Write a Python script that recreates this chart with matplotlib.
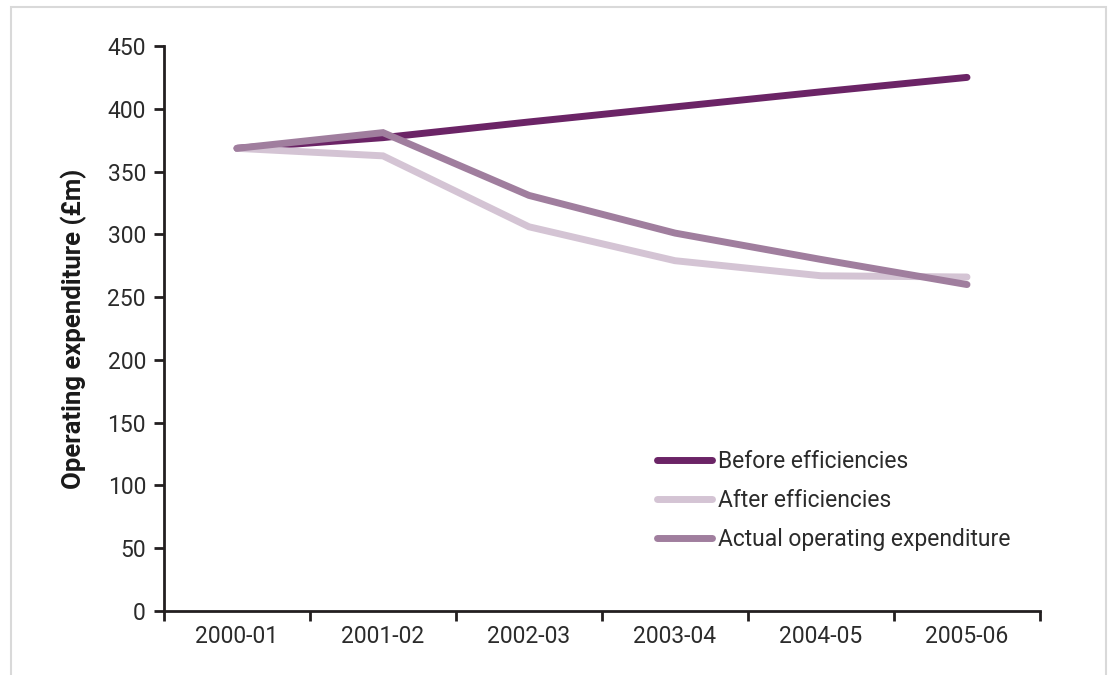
import matplotlib
matplotlib.use("Agg")
import matplotlib.pyplot as plt
from matplotlib.patches import Rectangle
from matplotlib.lines import Line2D

categories = ["2000-01", "2001-02", "2002-03", "2003-04", "2004-05", "2005-06"]
before = [368.5, 377, 389.5, 401.5, 413.5, 425]
after = [368.5, 362.5, 306, 279, 267, 266]
actual = [368.5, 381, 331, 301, 280, 260]
series_names = ["Before efficiencies", "After efficiencies", "Actual operating expenditure"]
colors = ["#6b2466", "#d4c4d4", "#a07e9e"]
yticks = [0, 50, 100, 150, 200, 250, 300, 350, 400, 450]

plt.rcParams['font.family'] = ['Roboto', 'DejaVu Sans']
text_color = "#2b2b2b"

W, H = 1114, 675
fig = plt.figure(figsize=(W / 100, H / 100), dpi=100)
fig.patches.append(Rectangle((11 / W, -0.05), (1106 - 11) / W, 1.05 - 7 / H,
                             transform=fig.transFigure, fill=False,
                             edgecolor="#d9d9d9", linewidth=1.5))

ax = fig.add_axes([164 / W, 1 - 611 / H, (1040 - 164) / W, (611 - 46) / H])
x = list(range(len(categories)))
lw = 5
for vals, name, c in zip([before, after, actual], series_names, colors):
    ax.plot(x, vals, color=c, lw=lw, solid_capstyle="round",
            solid_joinstyle="miter", label=name)

ax.set_xlim(-0.5, len(categories) - 0.5)
ax.set_ylim(0, 450)
ax.set_yticks(yticks)
ax.set_yticklabels([str(v) for v in yticks], fontsize=16.5, color=text_color)

ax.set_xticks(x)
ax.set_xticklabels(categories, fontsize=16.5, color=text_color)
ax.tick_params(axis="x", which="major", length=0, pad=10)
ax.set_xticks([i - 0.5 for i in range(len(categories) + 1)], minor=True)
ax.tick_params(axis="x", which="minor", length=7, width=2, color="#231f20", direction="out")
ax.tick_params(axis="y", length=7, width=2, color="#231f20", direction="out", pad=6)

for s in ["top", "right"]:
    ax.spines[s].set_visible(False)
for s in ["left", "bottom"]:
    ax.spines[s].set_linewidth(2)
    ax.spines[s].set_color("#231f20")

ax.set_ylabel("Operating expenditure (£m)", fontsize=18.5, fontweight="bold",
              color="#1a1a1a", labelpad=15)

handles = [Line2D([0], [0], color=c, lw=lw, solid_capstyle="round") for c in colors]
leg = ax.legend(handles, series_names, loc="upper left",
                bbox_to_anchor=((657 - 164) / (1040 - 164), (611 - 450) / (611 - 46)),
                frameon=False, fontsize=16.5, handlelength=2.4, handletextpad=0.25,
                labelspacing=0.7, borderaxespad=0, borderpad=0)
for t in leg.get_texts():
    t.set_color(text_color)

fig.savefig("out.png", dpi=100)
